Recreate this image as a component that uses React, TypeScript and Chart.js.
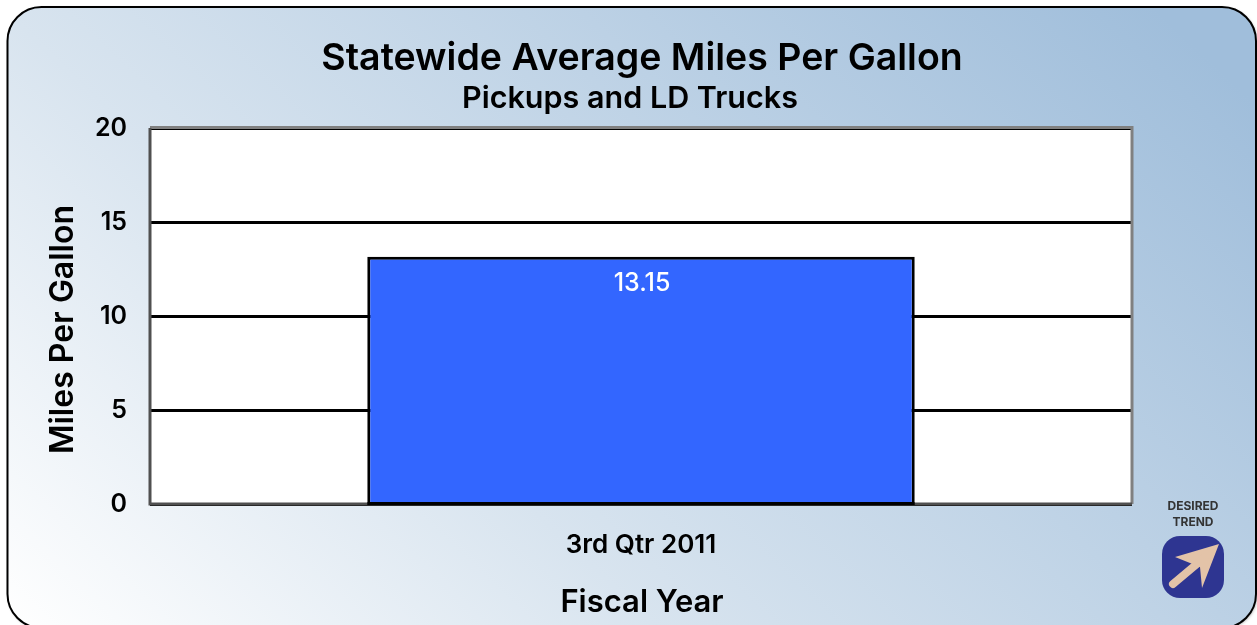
import React, { useEffect, useRef } from "react";
import { Chart, registerables } from "chart.js";

Chart.register(...registerables);

const categories = ["3rd Qtr 2011"];
const mpgValues = [13.15];
const valueLabels = ["13.15"];
const chartTitle = "Statewide Average Miles Per Gallon";
const chartSubtitle = "Pickups and LD Trucks";
const yAxisTitle = "Miles Per Gallon";
const xAxisTitle = "Fiscal Year";
const trendLines = ["DESIRED", "TREND"];

const FONT = "Inter, sans-serif";
const W = 1257;
const H = 625;
const PLOT = { left: 150, top: 128, right: 1132, bottom: 504 };

const backgroundPlugin = {
  id: "panelBackground",
  beforeDraw(chart: any) {
    const ctx: CanvasRenderingContext2D = chart.ctx;
    const { left, top, right, bottom } = chart.chartArea;
    ctx.save();
    ctx.fillStyle = "#ffffff";
    ctx.fillRect(0, 0, W, H);
    const g = ctx.createLinearGradient(7, 627, 857, -273);
    g.addColorStop(0, "#ffffff");
    g.addColorStop(0.36, "#d8e4ef");
    g.addColorStop(1, "#a0bedb");
    ctx.shadowColor = "rgba(0,0,0,0.35)";
    ctx.shadowBlur = 3;
    ctx.shadowOffsetX = 1;
    ctx.shadowOffsetY = 1;
    ctx.beginPath();
    ctx.roundRect(7.5, 7, 1248.5, 621, 34);
    ctx.fillStyle = g;
    ctx.fill();
    ctx.shadowColor = "transparent";
    ctx.lineWidth = 2;
    ctx.strokeStyle = "#000000";
    ctx.stroke();
    ctx.fillStyle = "#ffffff";
    ctx.fillRect(left, top, right - left, bottom - top);
    ctx.restore();
  },
};

const overlayPlugin = {
  id: "overlayText",
  afterDatasetsDraw(chart: any) {
    const ctx: CanvasRenderingContext2D = chart.ctx;
    const { left, top, right, bottom } = chart.chartArea;
    ctx.save();

    // plot frame
    ctx.strokeStyle = "#808080";
    ctx.lineWidth = 3;
    ctx.beginPath();
    ctx.moveTo(left, top - 0.5);
    ctx.lineTo(right, top - 0.5);
    ctx.lineTo(right, bottom);
    ctx.stroke();
    ctx.strokeStyle = "#505050";
    ctx.beginPath();
    ctx.moveTo(left, top);
    ctx.lineTo(left, bottom);
    ctx.lineTo(right, bottom);
    ctx.stroke();

    // bar edge at the baseline
    const bar = chart.getDatasetMeta(0).data[0];
    const half = bar.width / 2;
    ctx.strokeStyle = "#000000";
    ctx.lineWidth = 3;
    ctx.beginPath();
    ctx.moveTo(bar.x - half, bottom - 0.5);
    ctx.lineTo(bar.x + half, bottom - 0.5);
    ctx.stroke();

    // value label
    ctx.textAlign = "center";
    ctx.textBaseline = "middle";
    ctx.fillStyle = "#ffffff";
    ctx.font = `500 25px ${FONT}`;
    ctx.fillText(valueLabels[0], bar.x + 1, bar.y + 27);

    // titles
    ctx.fillStyle = "#000000";
    ctx.font = `600 37.5px ${FONT}`;
    ctx.fillText(chartTitle, 642, 59);
    ctx.font = `600 30.5px ${FONT}`;
    ctx.fillText(chartSubtitle, 630, 99);
    ctx.font = `600 31px ${FONT}`;
    ctx.fillText(xAxisTitle, 642, 603);

    ctx.save();
    ctx.translate(63, 329.5);
    ctx.rotate(-Math.PI / 2);
    ctx.font = `600 32px ${FONT}`;
    ctx.fillText(yAxisTitle, 0, 0);
    ctx.restore();

    // desired trend badge
    ctx.fillStyle = "#333333";
    ctx.font = `700 12px ${FONT}`;
    ctx.fillText(trendLines[0], 1193, 506);
    ctx.fillText(trendLines[1], 1193, 522);

    ctx.beginPath();
    ctx.roundRect(1162, 536, 62, 62, 18);
    ctx.fillStyle = "#2e3591";
    ctx.fill();

    ctx.fillStyle = "#e3c3a8";
    ctx.beginPath();
    ctx.moveTo(1219, 544);
    ctx.lineTo(1175, 557);
    ctx.lineTo(1200, 567);
    ctx.lineTo(1202, 588);
    ctx.closePath();
    ctx.fill();
    ctx.strokeStyle = "#e3c3a8";
    ctx.lineCap = "round";
    ctx.lineWidth = 8;
    ctx.beginPath();
    ctx.moveTo(1173, 584);
    ctx.lineTo(1204, 558);
    ctx.stroke();

    ctx.restore();
  },
};

export default function App() {
  const ref = useRef<HTMLCanvasElement | null>(null);

  useEffect(() => {
    document.body.style.margin = "0";
    document.body.style.background = "#ffffff";
    const chart = new Chart(ref.current as HTMLCanvasElement, {
      type: "bar",
      data: {
        labels: categories,
        datasets: [
          {
            label: yAxisTitle,
            data: mpgValues,
            backgroundColor: "#3366ff",
            borderColor: "#000000",
            borderWidth: 3,
            borderSkipped: "start",
            barPercentage: 0.5575,
            categoryPercentage: 1,
          },
        ],
      },
      options: {
        responsive: false,
        animation: false,
        devicePixelRatio: 1,
        layout: {
          padding: { left: 0, top: PLOT.top, right: W - PLOT.right, bottom: 0 },
        },
        plugins: {
          legend: { display: false },
          title: { display: false },
          tooltip: { enabled: false },
        },
        scales: {
          x: {
            grid: { display: false },
            border: { display: false },
            afterFit(scale: any) {
              scale.height = H - PLOT.bottom;
            },
            ticks: {
              color: "#000000",
              font: { family: FONT, size: 26, weight: 600 },
              padding: 18,
              maxRotation: 0,
            },
          },
          y: {
            min: 0,
            max: 20,
            grid: { color: "#000000", lineWidth: 3, drawTicks: false },
            border: { display: false },
            afterFit(scale: any) {
              scale.width = PLOT.left;
            },
            ticks: {
              stepSize: 5,
              color: "#000000",
              font: { family: FONT, size: 25, weight: 600 },
              padding: 23,
            },
          },
        },
      },
      plugins: [backgroundPlugin, overlayPlugin],
    } as any);
    return () => chart.destroy();
  }, []);

  return (
    <canvas
      ref={ref}
      width={W}
      height={H}
      style={{ display: "block", position: "absolute", left: 0, top: 0, width: W, height: H }}
    />
  );
}
